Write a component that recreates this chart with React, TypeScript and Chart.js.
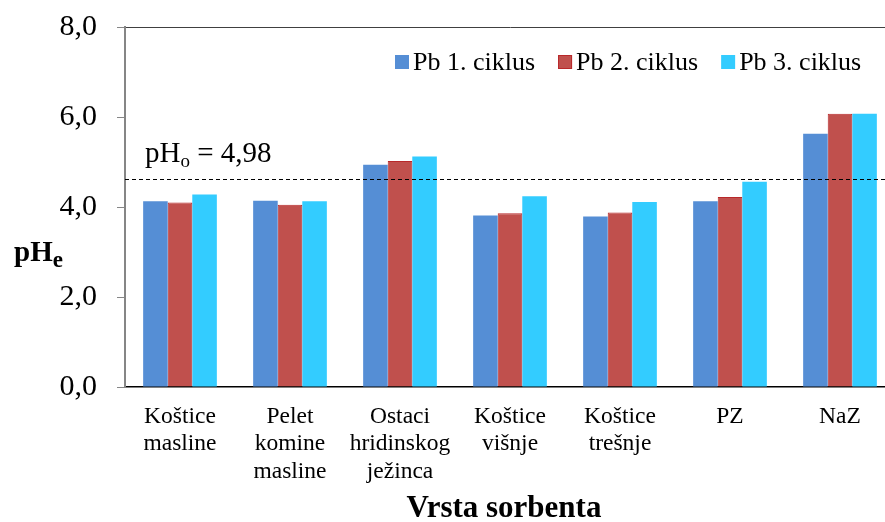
import React, { useEffect, useRef } from "react";
import { Chart, registerables } from "chart.js";

Chart.register(...registerables);

const categories: string[][] = [
  ["Koštice", "masline"],
  ["Pelet", "komine", "masline"],
  ["Ostaci", "hridinskog", "ježinca"],
  ["Koštice", "višnje"],
  ["Koštice", "trešnje"],
  ["PZ"],
  ["NaZ"],
];
const seriesNames = ["Pb 1. ciklus", "Pb 2. ciklus", "Pb 3. ciklus"];
const pb1 = [4.13, 4.14, 4.94, 3.81, 3.79, 4.13, 5.63];
const pb2 = [4.1, 4.05, 5.02, 3.86, 3.88, 4.22, 6.07];
const pb3 = [4.28, 4.13, 5.12, 4.24, 4.11, 4.56, 6.07];
const refLineValue = 4.63;
const refLabelValue = "4,98";
const yTicks = [0, 2, 4, 6, 8];
const xTitle = "Vrsta sorbenta";

const SERIF = "'Liberation Serif', 'Times New Roman', serif";
const colors = ["#558ED5", "#C0504D", "#33CCFF"];
const borders = ["#558ED5", "#B8282A", "#33CCFF"];

const overlay = {
  id: "overlay",
  afterDatasetsDraw(chart: any) {
    const ctx = chart.ctx;
    const area = chart.chartArea;
    const y = chart.scales.y;
    const yRef = Math.round(y.getPixelForValue(refLineValue)) + 0.5;
    ctx.save();
    // dashed reference line
    ctx.strokeStyle = "#000";
    ctx.lineWidth = 1;
    ctx.setLineDash([4, 3]);
    ctx.beginPath();
    ctx.moveTo(area.left, yRef);
    ctx.lineTo(area.right, yRef);
    ctx.stroke();
    ctx.setLineDash([]);
    // reference label
    ctx.fillStyle = "#000";
    ctx.textBaseline = "alphabetic";
    ctx.textAlign = "left";
    let x = 145;
    const base = yRef - 18;
    ctx.font = `29px ${SERIF}`;
    ctx.fillText("pH", x, base);
    x += ctx.measureText("pH").width;
    ctx.font = `19px ${SERIF}`;
    ctx.fillText("o", x, base + 5);
    x += ctx.measureText("o").width;
    ctx.font = `29px ${SERIF}`;
    ctx.fillText(" = " + refLabelValue, x, base);

    // y title pHe
    let tx = 14;
    const tb = 261;
    ctx.font = `bold 29px ${SERIF}`;
    ctx.fillText("pH", tx, tb);
    tx += ctx.measureText("pH").width;
    ctx.font = `bold 23px ${SERIF}`;
    ctx.fillText("e", tx, tb + 6);

    // x title
    ctx.font = `bold 31px ${SERIF}`;
    ctx.textAlign = "center";
    ctx.textBaseline = "middle";
    ctx.fillText(xTitle, 504, 509);

    // legend
    ctx.font = `26px ${SERIF}`;
    ctx.textAlign = "left";
    ctx.textBaseline = "middle";
    let lx = 395;
    const ly = 62;
    seriesNames.forEach((name, i) => {
      ctx.fillStyle = colors[i];
      ctx.fillRect(lx, ly - 7, 14, 14);
      if (i === 1) {
        ctx.strokeStyle = borders[i];
        ctx.lineWidth = 1;
        ctx.strokeRect(lx + 0.5, ly - 6.5, 13, 13);
      }
      ctx.fillStyle = "#000";
      ctx.fillText(name, lx + 18, ly + 1);
      lx += 18 + ctx.measureText(name).width + 23;
    });
    ctx.restore();
  },
};

export default function App() {
  const ref = useRef<HTMLCanvasElement | null>(null);
  useEffect(() => {
    if (!ref.current) return;
    const chart = new Chart(ref.current, {
      type: "bar",
      data: {
        labels: categories,
        datasets: [pb1, pb2, pb3].map((d, i) => ({
          label: seriesNames[i],
          data: d,
          backgroundColor: colors[i],
          borderColor: borders[i],
          borderWidth: i === 1 ? 1 : 0,
          categoryPercentage: 0.67,
          barPercentage: 1,
        })),
      },
      options: {
        animation: false,
        responsive: false,
        devicePixelRatio: 1,
        layout: { padding: { top: 27, right: 10, left: 0, bottom: 0 } },
        plugins: { legend: { display: false }, tooltip: { enabled: false } },
        scales: {
          x: {
            grid: { display: false },
            border: { display: true, color: "#000", width: 1.5 },
            ticks: {
              color: "#000",
              font: { family: SERIF, size: 23.5, lineHeight: 1.17 },
              padding: 8,
              maxRotation: 0,
              autoSkip: false,
            },
            afterFit(axis: any) {
              axis.height = 135;
              axis.paddingLeft = 0;
              axis.paddingRight = 0;
            },
          },
          y: {
            min: 0,
            max: 8,
            afterBuildTicks(axis: any) {
              axis.ticks = yTicks.map((v) => ({ value: v }));
            },
            grid: {
              color: (c: any) => (c.tick && c.tick.value === 8 ? "#404040" : "rgba(0,0,0,0)"),
              tickColor: "#868686",
              tickLength: 8,
              lineWidth: 1,
            },
            border: { display: true, color: "#868686", width: 2 },
            ticks: {
              color: "#000",
              font: { family: SERIF, size: 30 },
              padding: 20,
              callback: (v: any) => Number(v).toFixed(1).replace(".", ","),
            },
            afterFit(axis: any) {
              axis.width = 125;
              axis.paddingTop = 0;
              axis.paddingBottom = 0;
            },
          },
        },
      },
      plugins: [overlay],
    });
    return () => chart.destroy();
  }, []);
  return (
    <div
      style={{
        position: "fixed",
        left: 0,
        top: 0,
        width: 885,
        height: 522,
        overflow: "hidden",
        background: "#fff",
      }}
    >
      <canvas ref={ref} width={905} height={522} style={{ display: "block" }} />
    </div>
  );
}
